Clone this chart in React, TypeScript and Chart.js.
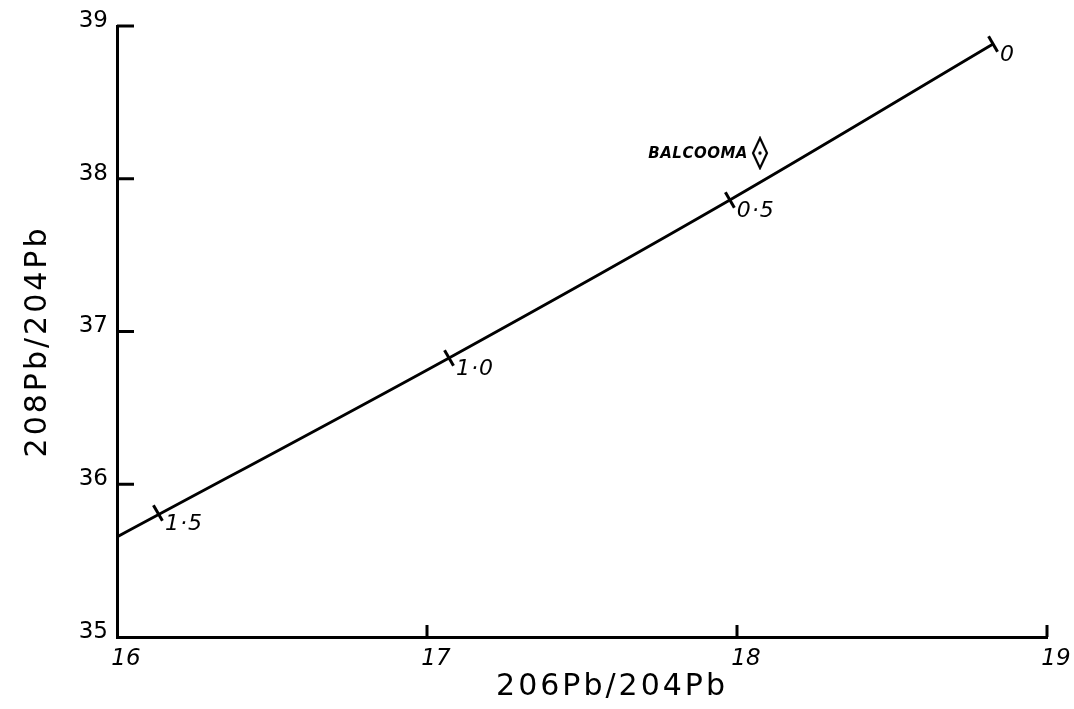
import React, { useEffect, useRef } from "react";
import { Chart, registerables } from "chart.js";

Chart.register(...registerables);

// Growth curve (206Pb/204Pb vs 208Pb/204Pb)
const curveX = [16.0, 17.071, 17.977, 18.826];
const curveY = [35.655, 36.827, 37.861, 38.882];

// Model-age markers on the curve (Ga)
const markerX = [16.132, 17.071, 17.977, 18.826];
const markerY = [35.812, 36.827, 37.861, 38.882];
const markerLabels = ["1·5", "1·0", "0·5", "0"];

// Balcooma sample
const sampleX = [18.074];
const sampleY = [38.168];
const sampleLabels = ["BALCOOMA"];

// Axes
const xTickValues = [16, 17, 18, 19];
const yTickValues = [35, 36, 37, 38, 39];
const xTitle = "206Pb/204Pb";
const yTitle = "208Pb/204Pb";

const FONT = "'DejaVu Sans', sans-serif";

function makeDiamond(): HTMLCanvasElement {
  const c = document.createElement("canvas");
  c.width = 18;
  c.height = 34;
  const g = c.getContext("2d")!;
  g.strokeStyle = "#000";
  g.lineWidth = 2.2;
  g.beginPath();
  g.moveTo(9, 2);
  g.lineTo(16, 17);
  g.lineTo(9, 32);
  g.lineTo(2, 17);
  g.closePath();
  g.stroke();
  g.fillStyle = "#000";
  g.beginPath();
  g.arc(9, 17, 1.7, 0, Math.PI * 2);
  g.fill();
  return c;
}

const decorPlugin = {
  id: "decor",
  afterDraw(chart: any) {
    const ctx = chart.ctx as CanvasRenderingContext2D;
    const xs = chart.scales.x;
    const ys = chart.scales.y;
    const area = chart.chartArea;
    ctx.save();
    ctx.strokeStyle = "#000";
    ctx.lineWidth = 3;
    // inward ticks
    yTickValues.slice(1).forEach((v) => {
      const py = ys.getPixelForValue(v);
      ctx.beginPath();
      ctx.moveTo(area.left, py);
      ctx.lineTo(area.left + 17, py);
      ctx.stroke();
    });
    xTickValues.slice(1).forEach((v) => {
      const px = xs.getPixelForValue(v);
      ctx.beginPath();
      ctx.moveTo(px, area.bottom);
      ctx.lineTo(px, area.bottom - 12);
      ctx.stroke();
    });

    // marker labels
    const meta = chart.getDatasetMeta(1);
    ctx.fillStyle = "#000";
    ctx.font = `italic 22px ${FONT}`;
    (ctx as any).letterSpacing = "1px";
    ctx.textAlign = "left";
    ctx.textBaseline = "middle";
    meta.data.forEach((el: any, i: number) => {
      ctx.fillText(markerLabels[i], el.x + 7, el.y + 11);
    });

    // sample label
    const sMeta = chart.getDatasetMeta(2);
    ctx.font = `italic bold 15px ${FONT}`;
    (ctx as any).letterSpacing = "0.5px";
    ctx.textAlign = "right";
    sMeta.data.forEach((el: any, i: number) => {
      ctx.fillText(sampleLabels[i], el.x - 12, el.y + 1);
    });

    // axis titles
    ctx.font = `30px ${FONT}`;
    (ctx as any).letterSpacing = "3px";
    ctx.textAlign = "center";
    ctx.fillText(xTitle, (area.left + area.right) / 2 + 30, area.bottom + 50);
    ctx.save();
    ctx.translate(38, (area.top + area.bottom) / 2 + 10);
    ctx.rotate(-Math.PI / 2);
    ctx.fillText(yTitle, 0, 0);
    ctx.restore();
    ctx.restore();
  },
};

export default function App() {
  const ref = useRef<HTMLCanvasElement>(null);
  useEffect(() => {
    if (!ref.current) return;
    const diamond = makeDiamond();
    const chart = new Chart(ref.current, {
      type: "scatter",
      data: {
        datasets: [
          {
            data: curveX.map((x, i) => ({ x, y: curveY[i] })),
            showLine: true,
            borderColor: "#000",
            borderWidth: 2.8,
            pointRadius: 0,
            cubicInterpolationMode: "monotone",
          } as any,
          {
            data: markerX.map((x, i) => ({ x, y: markerY[i] })),
            pointStyle: "line",
            rotation: 60,
            pointRadius: 9,
            borderColor: "#000",
            borderWidth: 3,
            backgroundColor: "#000",
          } as any,
          {
            data: sampleX.map((x, i) => ({ x, y: sampleY[i] })),
            pointStyle: diamond,
            pointRadius: 10,
          } as any,
        ],
      },
      options: {
        responsive: false,
        animation: false,
        layout: { padding: { top: 26, right: 27, left: 0, bottom: 0 } },
        plugins: { legend: { display: false }, tooltip: { enabled: false } },
        scales: {
          x: {
            type: "linear",
            min: 16,
            max: 19,
            afterFit: (s: any) => {
              s.height = 72;
            },
            afterBuildTicks: (s: any) => {
              s.ticks = xTickValues.map((v) => ({ value: v }));
            },
            grid: { drawOnChartArea: false, drawTicks: false },
            border: { display: true, color: "#000", width: 3 },
            ticks: {
              color: "#000",
              padding: 8,
              labelOffset: 9,
              maxRotation: 0,
              font: { family: FONT, size: 23, style: "italic" },
            },
          },
          y: {
            type: "linear",
            min: 35,
            max: 39,
            afterFit: (s: any) => {
              s.width = 117;
            },
            afterBuildTicks: (s: any) => {
              s.ticks = yTickValues.map((v) => ({ value: v }));
            },
            grid: { drawOnChartArea: false, drawTicks: false },
            border: { display: true, color: "#000", width: 3 },
            ticks: {
              color: "#000",
              padding: 9,
              labelOffset: -5,
              font: { family: FONT, size: 23 },
            },
          },
        },
      },
      plugins: [decorPlugin],
    });
    return () => chart.destroy();
  }, []);
  return (
    <div style={{ position: "fixed", left: 0, top: 0, width: 1074, height: 709, background: "#fff" }}>
      <canvas ref={ref} width={1074} height={709} />
    </div>
  );
}
